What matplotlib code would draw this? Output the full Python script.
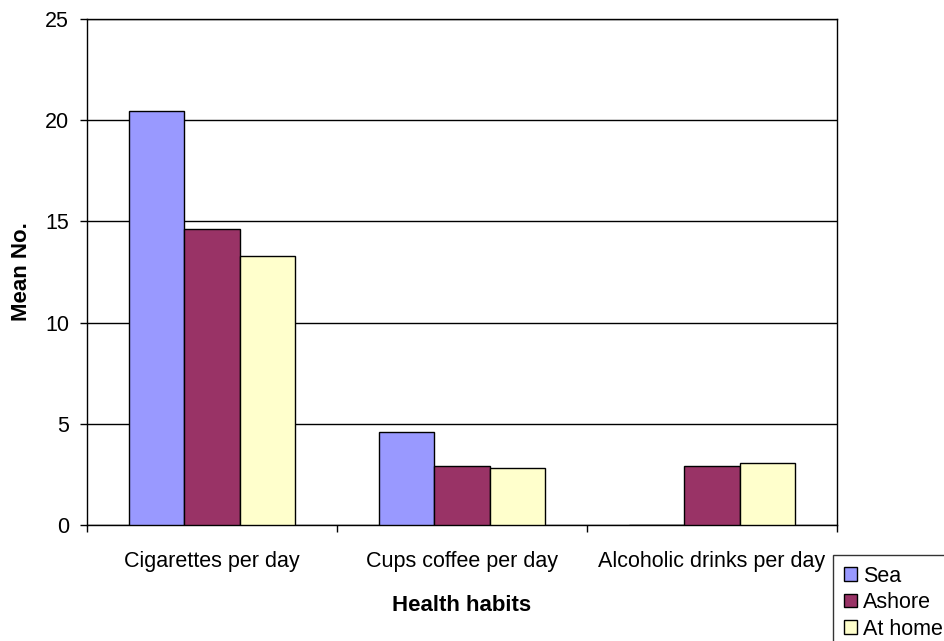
import matplotlib.pyplot as plt
import numpy as np

plt.rcParams['font.family'] = ['Liberation Sans', 'DejaVu Sans']

habitos = ["Cigarettes per day", "Cups coffee per day", "Alcoholic drinks per day"]
series = ["Sea", "Ashore", "At home"]
sea = [20.45, 4.6, 0.0]
ashore = [14.6, 2.9, 2.93]
at_home = [13.3, 2.83, 3.05]
colores = ["#9999FF", "#993366", "#FFFFCC"]

fig = plt.figure(figsize=(9.45, 6.41), dpi=100)
ax = fig.add_axes([87 / 945, 1 - 525 / 641, 750 / 945, 506 / 641])

x = np.arange(len(habitos))
ancho = 0.221
for i, (nombre, valores) in enumerate(zip(series, [sea, ashore, at_home])):
    ax.bar(x + (i - 1) * ancho, valores, width=ancho, color=colores[i],
           edgecolor="black", linewidth=1.0, label=nombre, zorder=3)

ax.set_xlim(-0.5, 2.5)
ax.set_ylim(0, 25)
ax.set_yticks([0, 5, 10, 15, 20, 25])
ax.yaxis.grid(True, color="black", linewidth=1.0, zorder=0)

# marcas del eje x en los limites de cada categoria
ax.set_xticks(x)
ax.set_xticklabels(habitos)
ax.set_xticks([-0.5, 0.5, 1.5, 2.5], minor=True)
ax.tick_params(axis="x", which="major", length=0, pad=19, labelsize=15.5)
ax.tick_params(axis="x", which="minor", length=5, width=1.0, direction="out")
ax.tick_params(axis="y", length=5, width=1.0, pad=8, labelsize=15.5)

for lado in ["left", "right", "top", "bottom"]:
    ax.spines[lado].set_linewidth(1.0)
    ax.spines[lado].set_color("black")

ax.set_ylabel("Mean No.", fontsize=16, fontweight="bold", labelpad=9)
ax.set_xlabel("Health habits", fontsize=16, fontweight="bold", labelpad=16)

leg = fig.legend(loc="upper left", bbox_to_anchor=(833 / 945, 1 - 555 / 641),
                 fontsize=15.5, frameon=True, fancybox=False, edgecolor="black",
                 handlelength=0.6, handleheight=0.6, handletextpad=0.3,
                 labelspacing=0.25, borderpad=0.5, borderaxespad=0)
leg.get_frame().set_linewidth(1.0)

plt.savefig("out.png", dpi=100)
